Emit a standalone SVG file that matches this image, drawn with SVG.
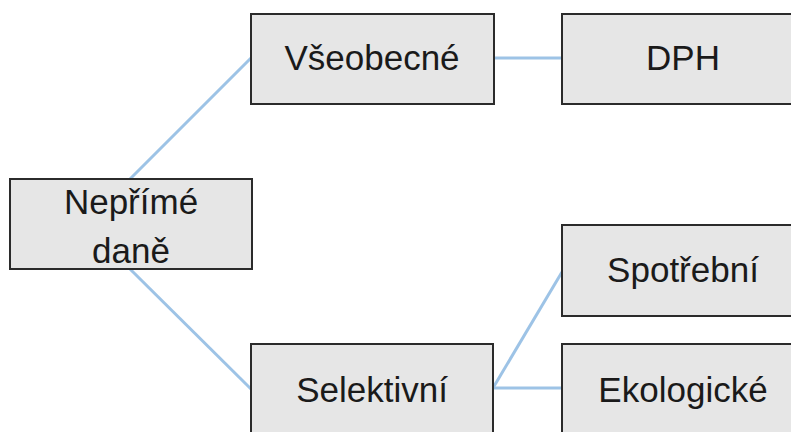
<svg xmlns="http://www.w3.org/2000/svg" width="791" height="432" viewBox="0 0 791 432">
<style>
.box{fill:#e6e6e6;stroke:#2b2b2b;stroke-width:2}
.lbl{font-family:"Liberation Sans",Arial,sans-serif;font-size:35px;fill:#1a1a1a;text-anchor:middle}
.con{stroke:#9dc3e6;stroke-width:3;fill:none}
</style>
<rect width="791" height="432" fill="#ffffff"/>
<g id="connectors">
<line class="con" x1="130" y1="179" x2="251" y2="58"/>
<line class="con" x1="494" y1="58" x2="562" y2="58"/>
<line class="con" x1="130" y1="269" x2="251" y2="389"/>
<line class="con" x1="493" y1="388" x2="562" y2="272"/>
<line class="con" x1="493" y1="388" x2="562" y2="388"/>
</g>
<g id="neprime">
<rect class="box" x="10" y="179" width="242" height="90"/>
<text class="lbl" x="131" y="214">Nepřímé</text>
<text class="lbl" x="131" y="263">daně</text>
</g>
<g id="vseobecne">
<rect class="box" x="251" y="14" width="243" height="90"/>
<text class="lbl" x="372" y="70">Všeobecné</text>
</g>
<g id="dph">
<rect class="box" x="562" y="14" width="243" height="90"/>
<text class="lbl" x="683" y="70">DPH</text>
</g>
<g id="selektivni">
<rect class="box" x="251" y="344" width="242" height="100"/>
<text class="lbl" x="372" y="402">Selektivní</text>
</g>
<g id="spotrebni">
<rect class="box" x="562" y="225" width="243" height="91"/>
<text class="lbl" x="683" y="282">Spotřební</text>
</g>
<g id="ekologicke">
<rect class="box" x="562" y="344" width="243" height="100"/>
<text class="lbl" x="683" y="402">Ekologické</text>
</g>
</svg>
